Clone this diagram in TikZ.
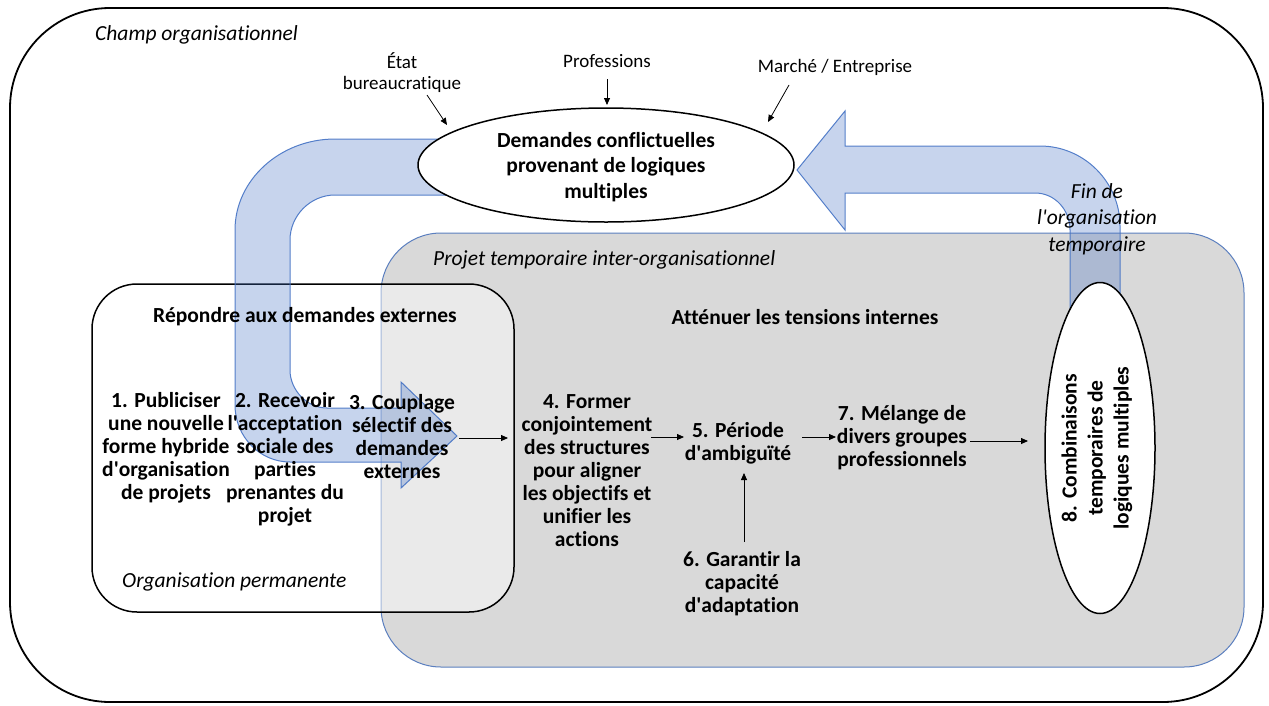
\documentclass[tikz,border=0pt]{standalone}
\usepackage{fontspec}
\setmainfont{Carlito}[Ligatures={NoCommon}]
\usetikzlibrary{arrows.meta,shapes.geometric}
\definecolor{arrblue}{HTML}{4472C4}
\definecolor{grayfill}{HTML}{D9D9D9}
\definecolor{grayedge}{HTML}{5B7FBF}
\newcommand{\sq}{\textquotesingle}
\begin{document}
\begin{tikzpicture}[x=1pt,y=-1pt,
  bt/.style={font=\fontsize{21.5}{23}\selectfont\bfseries, align=center, inner sep=0pt},
  be/.style={font=\fontsize{21.5}{25.5}\selectfont\bfseries, align=center, inner sep=0pt},
  it/.style={font=\fontsize{21.5}{26.5}\selectfont\itshape, inner sep=0pt},
  rt/.style={font=\fontsize{19}{21}\selectfont, align=center, inner sep=0pt},
  arr/.style={-{Triangle[length=7pt,width=6pt]}, line width=0.8pt},
  bigarrow/.style={fill=arrblue, fill opacity=0.3, draw=arrblue, draw opacity=0.9, line width=1pt},
  ell/.style={draw, ellipse, fill=white, line width=1.5pt, inner sep=0pt},
]
\useasboundingbox (0,0) rectangle (1269,705);
% outer field
\draw[line width=1.8pt, rounded corners=100pt] (10,8) rectangle (1263,702);
% temporary project (gray)
\draw[fill=grayfill, draw=grayedge, line width=1pt, rounded corners=60pt] (381,233) rectangle (1244,667);
% permanent organisation box
\draw[fill=white, fill opacity=0.45, line width=1.5pt, rounded corners=45pt] (92,284) rectangle (514,612);
% big U-turn arrow (left)
\draw[bigarrow] (480,139) -- (335,139) .. controls (280,139) and (235,180) .. (235,230)
  -- (235,405) .. controls (235,437) and (260,462) .. (290,462) -- (401,462) -- (401,488)
  -- (457,436) -- (401,382) -- (401,408) -- (327,408) .. controls (307,408) and (290,390) .. (290,370)
  -- (290,240) .. controls (290,216) and (310,195) .. (335,195) -- (480,195) -- cycle;
% big return arrow (right)
\draw[bigarrow] (797,170) -- (845,111) -- (845,146) -- (1040,146)
  .. controls (1084,146) and (1120,182) .. (1120,226) -- (1120,330) -- (1070,330) -- (1070,230)
  .. controls (1070,210) and (1055,193) .. (1035,193) -- (845,193) -- (845,230) -- cycle;
% ellipses
\node[ell, minimum width=376pt, minimum height=114pt] (dem) at (606,165) {};
\node[be] (demt) at (606,167) {Demandes conflictuelles\\provenant de logiques\\multiples};
\node[ell, minimum width=110pt, minimum height=331pt] (e8) at (1100,448) {};
\node[font=\fontsize{21.5}{26}\selectfont\bfseries, align=center, inner sep=0pt, rotate=90] (s8) at (1097,448) {8. Combinaisons\\temporaires de\\logiques multiples};
% labels
\node[it, anchor=west] (champ) at (95,35) {Champ organisationnel};
\node[rt] (etat) at (402,73) {État\\bureaucratique};
\node[rt] (prof) at (607,61) {Professions};
\node[rt] (march) at (835,67) {Marché / Entreprise};
\node[it, anchor=west] (projet) at (433,260) {Projet temporaire inter-organisationnel};
\node[it, align=center] (fin) at (1097,219) {Fin de\\l\sq organisation\\temporaire};
\node[bt] (rep) at (305,317) {Répondre aux demandes externes};
\node[bt] (att) at (805,317) {Atténuer les tensions internes};
\node[it, anchor=west] (perm) at (122,582) {Organisation permanente};
% steps
\node[bt] (s1) at (166,448) {1. Publiciser\\une nouvelle\\forme hybride\\d\sq organisation\\de projets};
\node[bt] (s2) at (285,459.5) {2. Recevoir\\l\sq acceptation\\sociale des\\parties\\prenantes du\\projet};
\node[bt] (s3) at (402,436.5) {3. Couplage\\sélectif des\\demandes\\externes};
\node[bt] (s4) at (587,471) {4. Former\\conjointement\\des structures\\pour aligner\\les objectifs et\\unifier les\\actions};
\node[bt] (s5) at (738,443) {5. Période\\d\sq ambiguïté};
\node[bt] (s6) at (742,584) {6. Garantir la\\capacité\\d\sq adaptation};
\node[bt] (s7) at (902,438) {7. Mélange de\\divers groupes\\professionnels};
% small arrows
\coordinate (ea) at (427,95);  \coordinate (eb) at (447,125);
\coordinate (pa) at (607,79);  \coordinate (pb) at (607,105);
\coordinate (ma) at (789,85);  \coordinate (mb) at (768,122);
\coordinate (c3) at (459,438); \coordinate (c4) at (508,438);
\coordinate (d4) at (651,437); \coordinate (d5) at (684,437);
\coordinate (f5) at (802,437); \coordinate (f7) at (836,437);
\coordinate (g7) at (970,441); \coordinate (g8) at (1028,441);
\coordinate (h6) at (744,542); \coordinate (h5) at (744,473);
\draw[arr] (ea) -- (eb);
\draw[arr] (pa) -- (pb);
\draw[arr] (ma) -- (mb);
\draw[arr] (c3) -- (c4);
\draw[arr] (d4) -- (d5);
\draw[arr] (f5) -- (f7);
\draw[arr] (g7) -- (g8);
\draw[arr] (h6) -- (h5);
\end{tikzpicture}
\end{document}
